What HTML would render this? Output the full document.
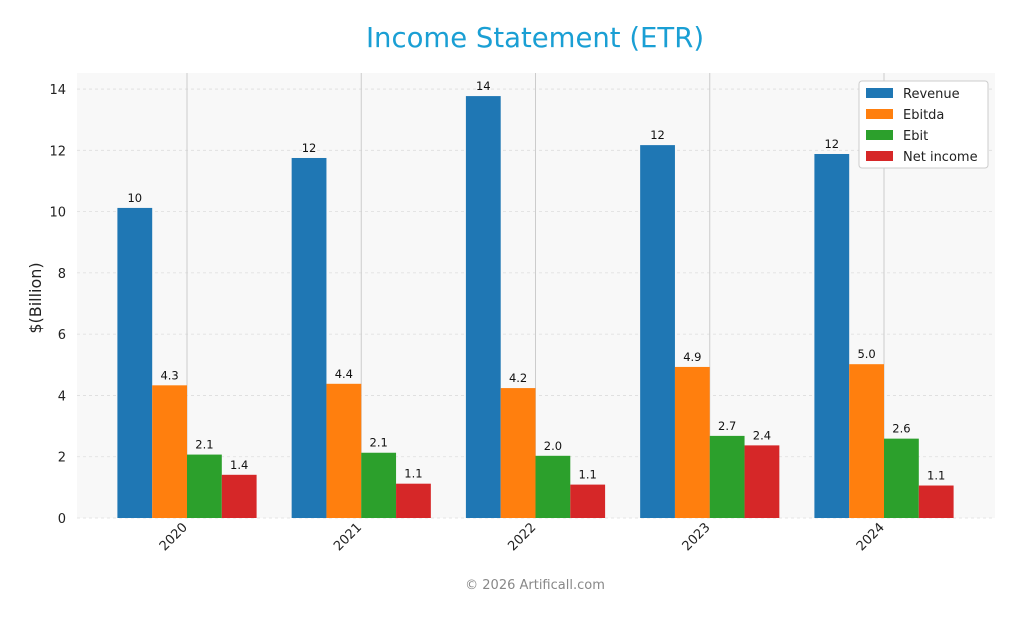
<!DOCTYPE html>
<html><head><meta charset="utf-8"><style>
body{margin:0;background:#fff;font-family:"Liberation Sans","DejaVu Sans",sans-serif;}
svg text{font-family:"DejaVu Sans","Liberation Sans",sans-serif;}
</style></head><body>
<svg id="chart" width="1020" height="617" xmlns="http://www.w3.org/2000/svg">
<rect width="1020" height="617" fill="#fff"/>
<text x="535" y="47" text-anchor="middle" font-size="27.5" fill="#1a9fd4">Income Statement (ETR)</text>
<rect x="77" y="73" width="918" height="445" fill="#f8f8f8"/>
<g id="grid"></g><g id="bars"></g><g id="axes"></g>
<text transform="translate(41,298) rotate(-90)" text-anchor="middle" font-size="16" fill="#222">$(Billion)</text>
<text x="535" y="589" text-anchor="middle" font-size="13" fill="#888">© 2026 Artificall.com</text>
<g id="legend"></g>
</svg>
<script>
const categories=["2020","2021","2022","2023","2024"];
const seriesNames=["Revenue","Ebitda","Ebit","Net income"];
const revenue=[10.12,11.75,13.77,12.17,11.88];
const ebitda=[4.33,4.38,4.24,4.93,5.02];
const ebit=[2.07,2.13,2.03,2.68,2.59];
const netIncome=[1.41,1.12,1.09,2.37,1.06];
const yTicks=[0,2,4,6,8,10,12,14];
const colors=["#1f77b4","#ff7f0e","#2ca02c","#d62728"];
const series=[revenue,ebitda,ebit,netIncome];
const NS="http://www.w3.org/2000/svg";
const y=v=>518-v*30.64;
const gx=i=>187+i*174.25;
const bw=34.8;
function mk(t,a,p){const e=document.createElementNS(NS,t);for(const k in a)e.setAttribute(k,a[k]);p.appendChild(e);return e;}
const grid=document.getElementById('grid'),bars=document.getElementById('bars'),axes=document.getElementById('axes'),leg=document.getElementById('legend');
yTicks.forEach(t=>{
 const l=mk('line',{x1:77,x2:995,y1:y(t),y2:y(t),stroke:'#ddd','stroke-dasharray':'3,3','stroke-width':0.8},grid);
 
 
 const tx=mk('text',{x:66,y:y(t)+5,'text-anchor':'end','font-size':13,fill:'#222'},axes);
 tx.textContent=t;
 
 
});
categories.forEach((c,i)=>{
 const l=mk('line',{x1:gx(i),x2:gx(i),y1:73,y2:518,stroke:'#ccc','stroke-width':1},grid);
 
 
 const tx=mk('text',{transform:`translate(${gx(i)+1},${528}) rotate(-45)`,'text-anchor':'end','font-size':13,fill:'#222'},axes);
 tx.textContent=c;
 
 
 series.forEach((s,k)=>{
  const x=gx(i)+(k-2)*bw;
  const r=mk('rect',{x:x,y:y(s[i]),width:bw,height:518-y(s[i]),fill:colors[k]},bars);
  
  
  const lb=mk('text',{x:x+bw/2,y:y(s[i])-6,'text-anchor':'middle','font-size':11.5,fill:'#111'},bars);
  lb.textContent=s[i]>=10?Math.round(s[i]):s[i].toFixed(1);
  
  
 });
});
const box=mk('rect',{x:859,y:81,width:129,height:87,fill:'#fff',stroke:'#ccc',rx:3},leg);


seriesNames.forEach((n,k)=>{
 const r=mk('rect',{x:866,y:88+k*21,width:27,height:10,fill:colors[k]},leg);
 
 
 const t=mk('text',{x:903,y:98+k*21,'font-size':13,fill:'#222'},leg);
 t.textContent=n;
 
 
});
</script>
</body></html>
